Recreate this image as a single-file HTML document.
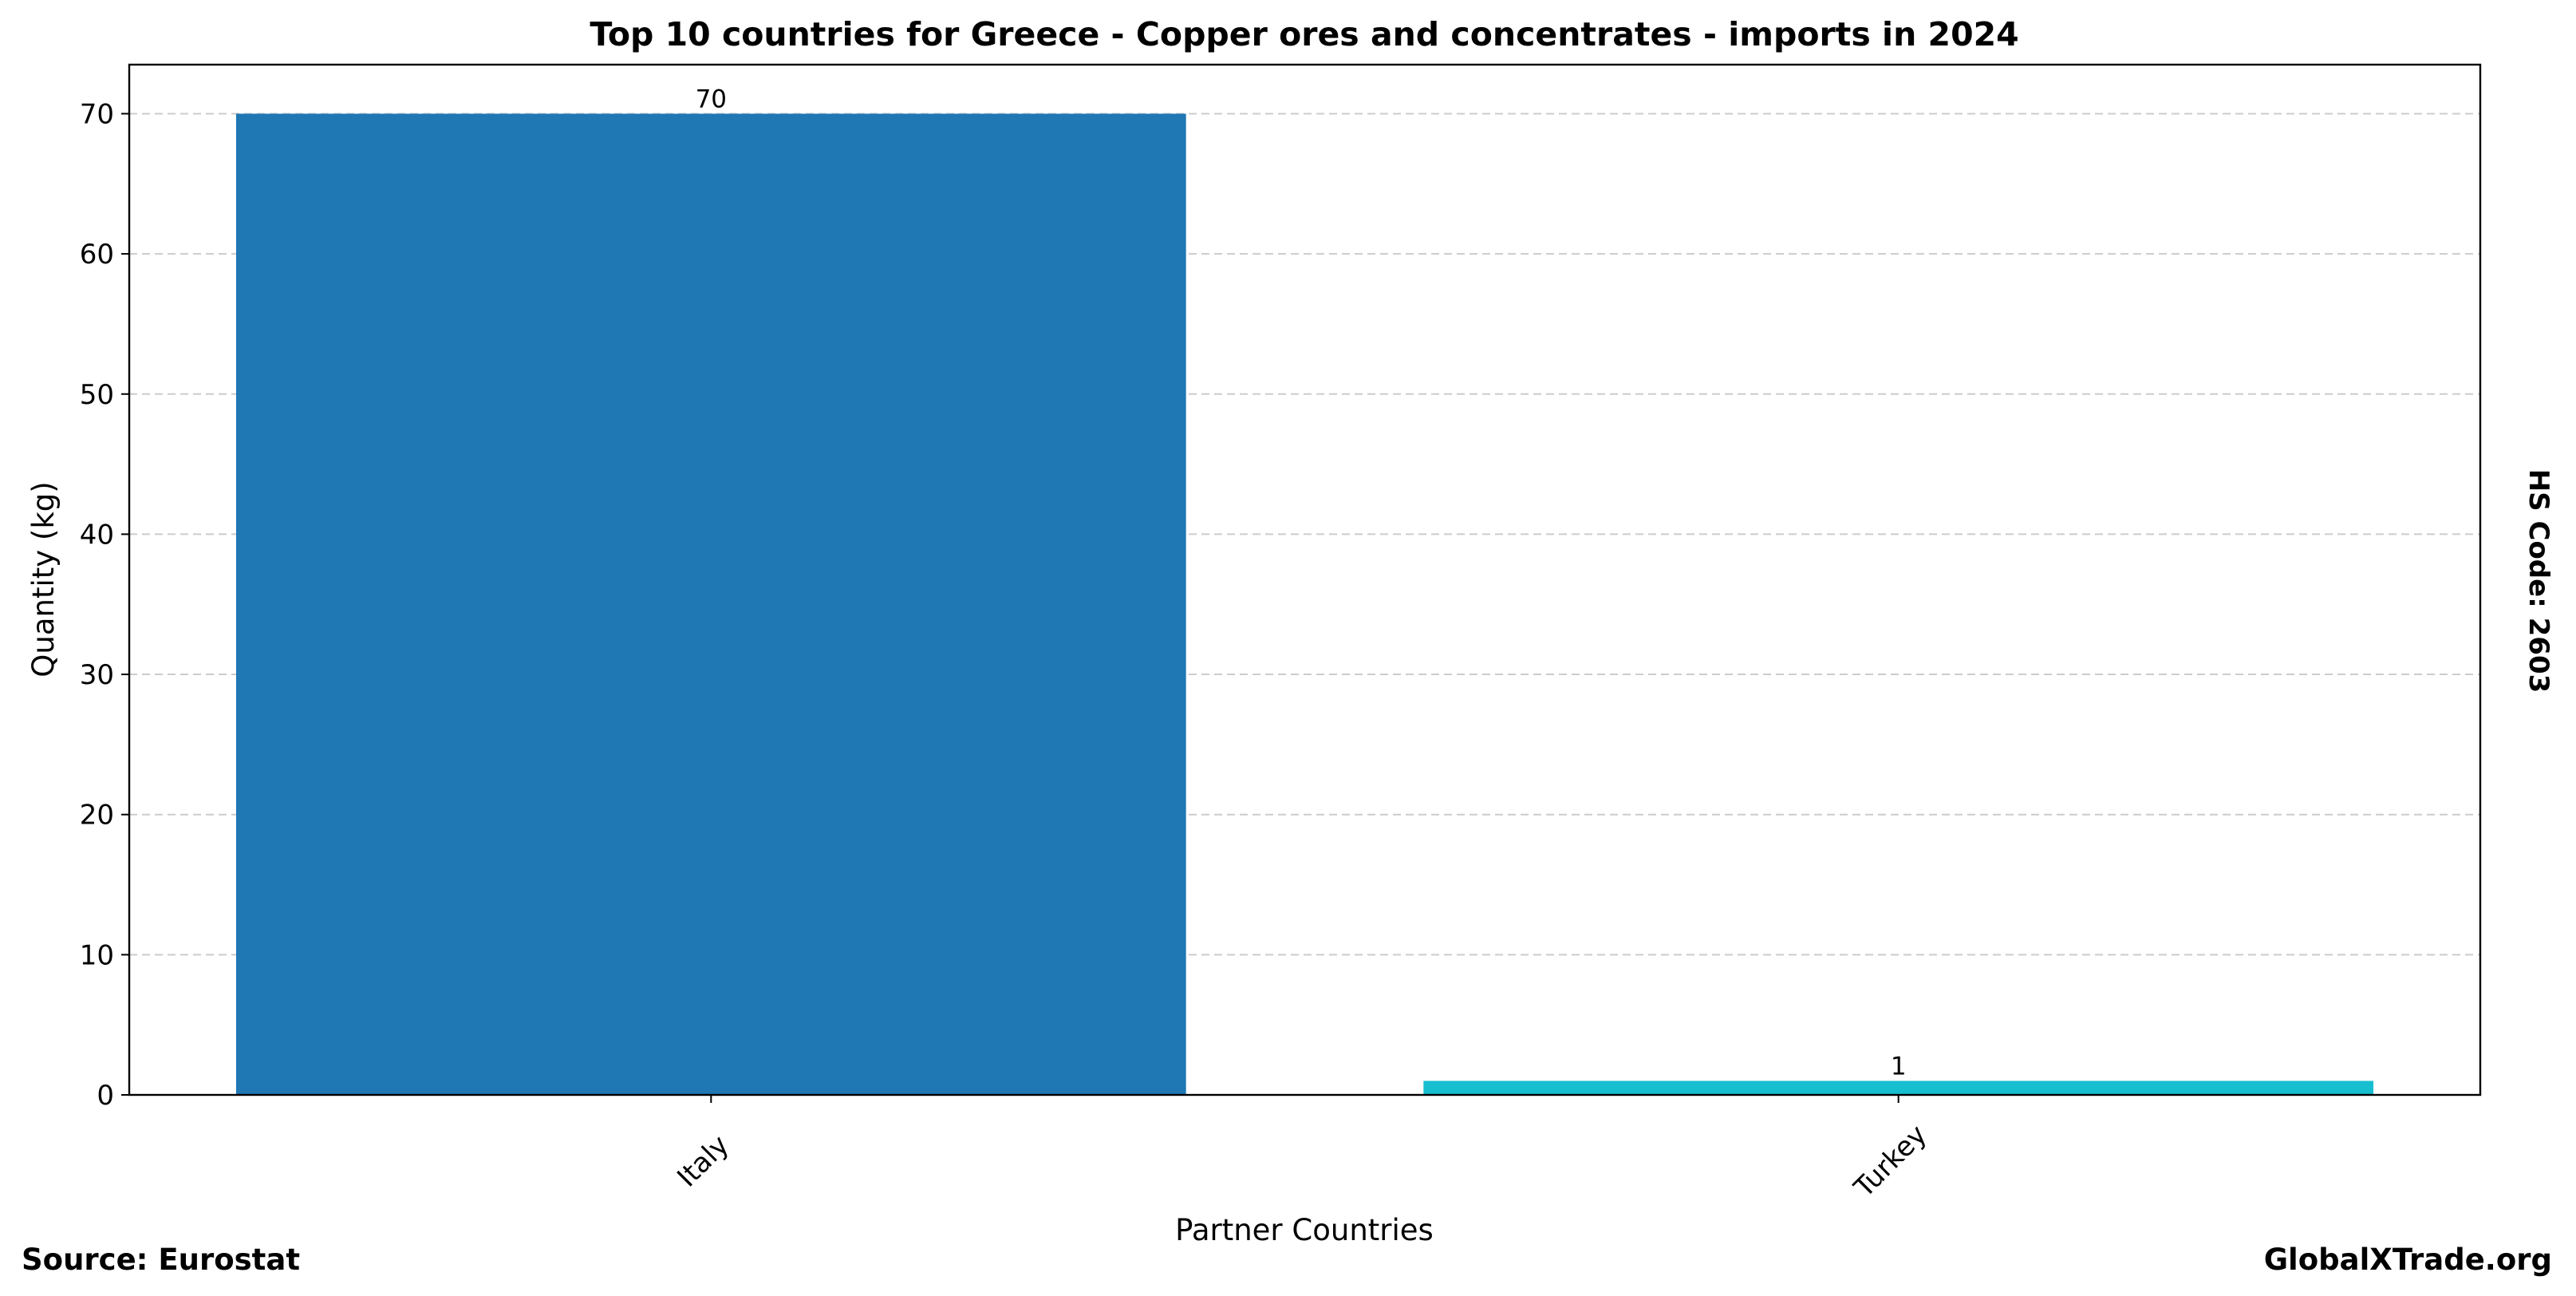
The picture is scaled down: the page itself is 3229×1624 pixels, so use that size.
<!DOCTYPE html>
<html><head><meta charset="utf-8"><style>
html,body{margin:0;padding:0;background:#fff}
svg{display:block;font-family:"DejaVu Sans","Liberation Sans",sans-serif}
</style></head><body>
<svg id="chart" width="3229" height="1624" viewBox="0 0 3229 1624" xmlns="http://www.w3.org/2000/svg">
<rect width="3229" height="1624" fill="#fff"/>
<text x="1635" y="57" text-anchor="middle" font-size="41" font-weight="bold">Top 10 countries for Greece - Copper ores and concentrates - imports in 2024</text>
<g id="grid"></g>
<g id="bars"></g>
<rect x="162" y="81" width="2947" height="1291" fill="none" stroke="#000" stroke-width="2.4"/>
<g id="yaxis"></g>
<g id="xaxis"></g>
<text transform="translate(67,726) rotate(-90)" text-anchor="middle" font-size="37">Quantity (kg)</text>
<text x="1635" y="1554" text-anchor="middle" font-size="37">Partner Countries</text>
<text transform="translate(3171,728) rotate(90)" text-anchor="middle" font-size="34" font-weight="bold">HS Code: 2603</text>
<text x="27" y="1591" font-size="37" font-weight="bold">Source: Eurostat</text>
<text x="3199" y="1591" text-anchor="end" font-size="37" font-weight="bold">GlobalXTrade.org</text>
</svg>
<script>
const categories = ["Italy", "Turkey"];
const values = [70, 1];
const valueLabels = ["70", "1"];
const colors = ["#1f77b4", "#17becf"];
const yTicks = [0, 10, 20, 30, 40, 50, 60, 70];

const NS = "http://www.w3.org/2000/svg";
const L = 162, R = 3109, T = 81, B = 1372;
const yMax = 73.5;
const xMin = -0.49, xMax = categories.length - 1 + 0.49;
function y(v){ return B - v / yMax * (B - T); }
function x(i){ return L + (i - xMin) / (xMax - xMin) * (R - L); }
const unit = (R - L) / (xMax - xMin);
function mk(tag, attrs, parent){
  const el = document.createElementNS(NS, tag);
  for (const k in attrs) el.setAttribute(k, attrs[k]);
  parent.appendChild(el);
  return el;
}
const grid = document.getElementById('grid');
const yaxis = document.getElementById('yaxis');
yTicks.forEach(t => {
  const g = mk('line', {x1:L, x2:R, y1:y(t), y2:y(t), stroke:'#cccccc', 'stroke-width':2, 'stroke-dasharray':'10,6'}, grid);
  
  
  const tk = mk('line', {x1:L-10, x2:L, y1:y(t), y2:y(t), stroke:'#000', 'stroke-width':2}, yaxis);
  
  
  const lb = mk('text', {x:L-19, y:y(t)+12, 'text-anchor':'end', 'font-size':34}, yaxis);
  
  
  lb.textContent = t;
});
const bars = document.getElementById('bars');
const xaxis = document.getElementById('xaxis');
categories.forEach((c, i) => {
  const cx = x(i);
  const r = mk('rect', {x:cx-0.4*unit, y:y(values[i]), width:0.8*unit, height:B-y(values[i]), fill:colors[i]}, bars);
  
  
  const vl = mk('text', {x:cx, y:y(values[i])-8, 'text-anchor':'middle', 'font-size':31}, bars);
  
  
  vl.textContent = valueLabels[i];
  const tk = mk('line', {x1:cx, x2:cx, y1:B, y2:B+10, stroke:'#000', 'stroke-width':2}, xaxis);
  
  
  const lb = mk('text', {transform:'translate(' + (cx-2) + ',' + 1463 + ') rotate(-45)', 'text-anchor':'middle', 'font-size':34}, xaxis);
  
  
  lb.textContent = c;
});
</script>
</body></html>
